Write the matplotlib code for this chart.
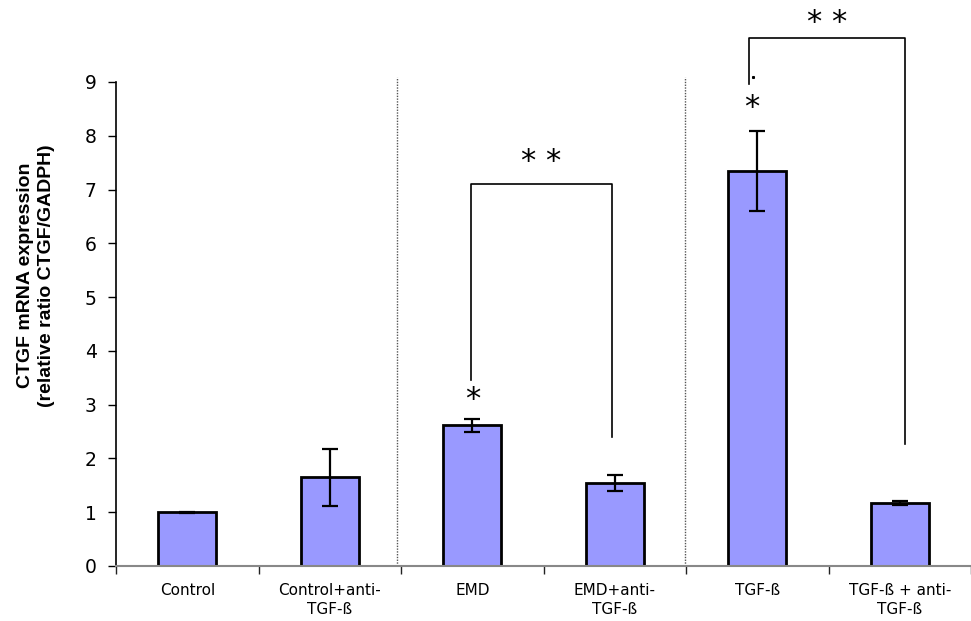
import numpy as np
import matplotlib.pyplot as plt


# Group labels and measured CTGF/GADPH ratios
groups = [
    "Control",
    "Control+anti-\nTGF-ß",
    "EMD",
    "EMD+anti-\nTGF-ß",
    "TGF-ß",
    "TGF-ß + anti-\nTGF-ß",
]
expression = [1.00, 1.65, 2.62, 1.55, 7.35, 1.17]
errors = [0.01, 0.53, 0.12, 0.15, 0.74, 0.03]

# Single-star marks above treated groups (x, y)
single_star_x = [2.0, 3.96]
single_star_y = [3.1, 8.52]

# Double-star brackets: left x, right x, left foot, right foot, top
bracket_left = [1.99, 3.94]
bracket_right = [2.98, 5.04]
bracket_left_foot = [3.45, 8.97]
bracket_right_foot = [2.40, 2.27]
bracket_top = [7.10, 9.81]
bracket_star_gap = [0.42, 0.30]

yticks = np.arange(0, 10, 1)
x = np.arange(len(groups))

fig = plt.figure(figsize=(9.71, 6.21), dpi=100)
ax = fig.add_axes([0.1195, 0.0886, 0.8805, 0.7794])

ax.bar(
    x,
    expression,
    width=0.405,
    color="#9999FF",
    edgecolor="black",
    linewidth=2,
    zorder=2,
)
ax.errorbar(
    x,
    expression,
    yerr=errors,
    fmt="none",
    ecolor="black",
    elinewidth=1.6,
    capsize=5.5,
    capthick=1.6,
    zorder=3,
)

# dotted separators between the three treatment blocks
for xs in [1.47, 3.49]:
    ax.plot([xs, xs], [0, 9.1], color="#555555", linestyle=(0, (1, 1)),
            linewidth=1.0, clip_on=False, zorder=1)

for sx, sy in zip(single_star_x, single_star_y):
    ax.text(sx, sy, "*", ha="center", va="center", fontsize=22,
            family="DejaVu Sans", clip_on=False)

for xl, xr, yl, yr, yt, gap in zip(bracket_left, bracket_right,
                                   bracket_left_foot, bracket_right_foot,
                                   bracket_top, bracket_star_gap):
    ax.plot([xl, xl, xr, xr], [yl, yt, yt, yr], color="black",
            linewidth=1.2, clip_on=False, zorder=3)
    ax.text((xl + xr) / 2, yt + gap, "* *", ha="center", va="center",
            fontsize=22, family="DejaVu Sans", clip_on=False)

ax.plot([3.97], [9.1], marker="s", markersize=1.2, color="black",
        clip_on=False)

ax.set_xlim(-0.5, 5.451)
ax.set_ylim(0, 9)

ax.set_yticks(yticks)
ax.set_yticklabels([str(v) for v in yticks], fontsize=13.5,
                   family="DejaVu Sans")
ax.tick_params(axis="y", direction="out", length=6, width=1, pad=8)

# major ticks sit on group boundaries, labels on group centres
ax.set_xticks(np.arange(-0.5, 6, 1))
ax.set_xticklabels([])
ax.set_xticks(x, minor=True)
ax.set_xticklabels(groups, minor=True, fontsize=11,
                   family="DejaVu Sans", linespacing=1.4)
ax.tick_params(axis="x", which="major", direction="out", length=6,
               width=1, color="#222222")
ax.tick_params(axis="x", which="minor", length=0, pad=12)

ax.spines["top"].set_visible(False)
ax.spines["right"].set_visible(False)
ax.spines["left"].set_linewidth(1.2)
ax.spines["bottom"].set_color("#888888")
ax.spines["bottom"].set_linewidth(1.5)

ax.set_ylabel("CTGF mRNA expression\n(relative ratio CTGF/GADPH)",
              fontsize=14, fontweight="bold", family="Liberation Sans",
              linespacing=1.35)
ax.yaxis.set_label_coords(-0.071, 0.6)

fig.savefig("out.png", dpi=100)
